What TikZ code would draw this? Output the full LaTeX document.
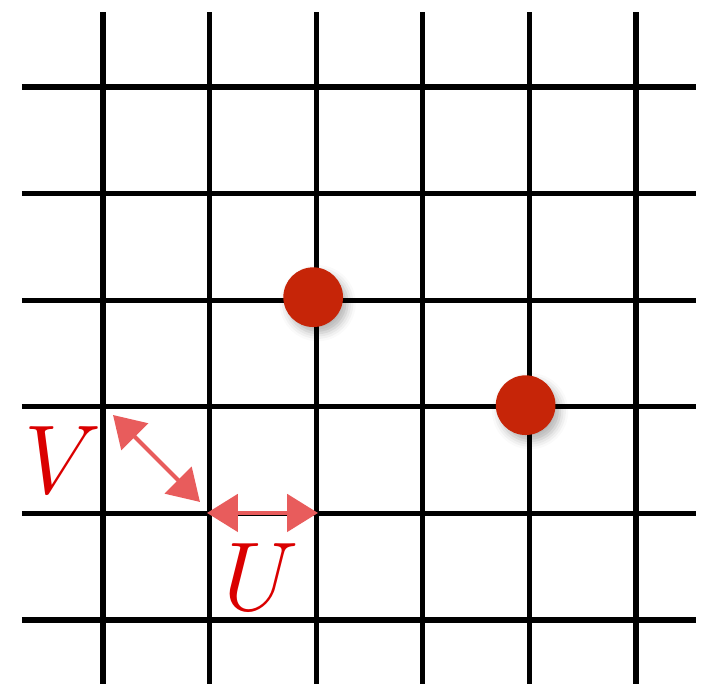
\documentclass[tikz,border=0pt]{standalone}
\usetikzlibrary{arrows.meta,shadows.blur}
\definecolor{dotred}{RGB}{198,37,8}
\definecolor{arrred}{RGB}{232,92,92}
\definecolor{labred}{RGB}{218,0,0}
\tikzset{
  gridline/.style={line width=1.4pt, black},
  site/.style={circle, fill=dotred, minimum size=0.56cm, inner sep=0pt,
    blur shadow={shadow xshift=1.2pt, shadow yshift=-1.6pt,
      shadow blur radius=2.2pt, shadow opacity=30}},
  hop/.style={line width=1.1pt, arrred,
    {Triangle[length=0.29cm,width=0.35cm]}-{Triangle[length=0.29cm,width=0.35cm]}},
  hoplabel/.style={labred, font=\Huge, scale=1.05}
}
\begin{document}
\begin{tikzpicture}
\useasboundingbox (-0.966,-0.600) rectangle (5.629,5.816);
% grid lines
\foreach \i in {0,...,5} {
  \draw[gridline] (\i,-0.600) -- (\i,5.703);
  \draw[gridline] (-0.760,\i) -- (5.563,\i);
}
% occupied sites
\node[site] (s1) at (1.972,3.028) {};
\node[site] (s2) at (3.965,2.015) {};
% hopping U and V
\coordinate (u0) at (0.976,1.004);
\coordinate (u1) at (2.017,1.004);
\coordinate (v0) at (0.094,1.923);
\coordinate (v1) at (0.910,1.107);
\draw[hop] (u0) -- (u1);
\draw[hop] (v0) -- (v1);
\node[hoplabel] (labU) at (1.487,0.403) {$U$};
\node[hoplabel] (labV) at (-0.375,1.500) {$V$};
\end{tikzpicture}
\end{document}
